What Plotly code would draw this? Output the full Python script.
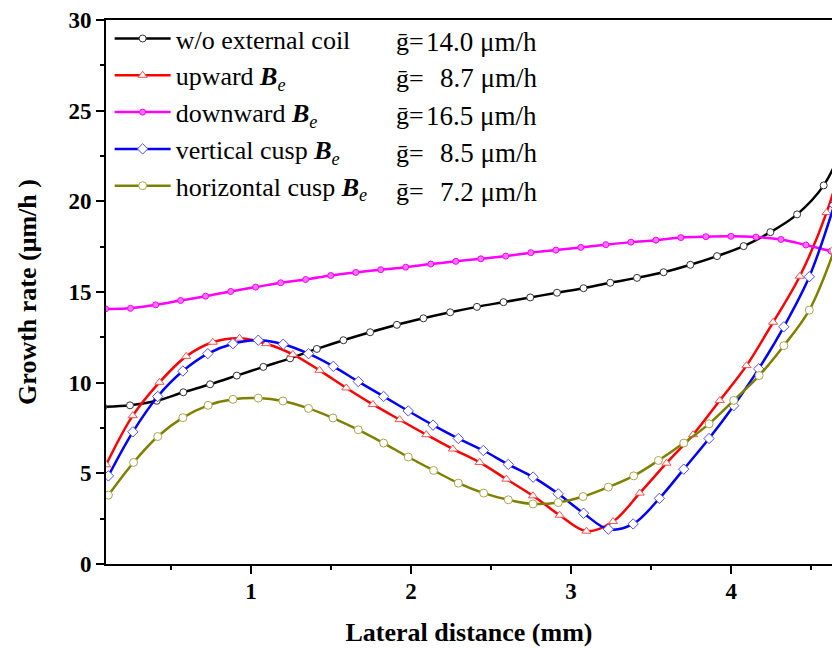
import plotly.graph_objects as go

# w/o external coil
x_none = [0.078, 0.245, 0.412, 0.578, 0.745, 0.912, 1.078, 1.245, 1.412, 1.578, 1.745, 1.912, 2.078, 2.245, 2.412,
          2.578, 2.745, 2.912, 3.078, 3.245, 3.412, 3.578, 3.745, 3.912, 4.078, 4.245, 4.412, 4.578, 4.745]
y_none = [8.66, 8.75, 9.0, 9.47, 9.91, 10.39, 10.87, 11.34, 11.86, 12.34, 12.78, 13.19, 13.55, 13.88, 14.18,
          14.44, 14.70, 14.96, 15.21, 15.51, 15.78, 16.09, 16.5, 16.98, 17.53, 18.30, 19.28, 20.88, 24.0]

# upward Be
x_up = [0.096, 0.262, 0.429, 0.596, 0.762, 0.929, 1.096, 1.262, 1.429, 1.596, 1.762, 1.929, 2.096, 2.262, 2.429,
        2.596, 2.762, 2.929, 3.096, 3.262, 3.429, 3.596, 3.762, 3.929, 4.096, 4.262, 4.429, 4.596, 4.762]
y_up = [5.47, 8.18, 10.02, 11.45, 12.23, 12.45, 12.15, 11.56, 10.68, 9.71, 8.80, 7.96, 7.13, 6.34, 5.60,
        4.68, 3.76, 2.69, 1.81, 2.34, 3.91, 5.56, 7.13, 9.02, 10.94, 13.33, 15.87, 19.38, 24.3]

# downward Be
x_down = [0.092, 0.248, 0.405, 0.561, 0.717, 0.874, 1.03, 1.186, 1.342, 1.499, 1.655, 1.811, 1.967, 2.124, 2.28,
          2.436, 2.592, 2.749, 2.905, 3.061, 3.217, 3.374, 3.53, 3.686, 3.842, 3.999, 4.155, 4.311, 4.467, 4.624]
y_down = [14.07, 14.1, 14.29, 14.53, 14.77, 15.03, 15.27, 15.51, 15.69, 15.91, 16.08, 16.23, 16.37, 16.54, 16.69,
          16.83, 16.98, 17.17, 17.31, 17.46, 17.61, 17.75, 17.86, 18.0, 18.05, 18.07, 18.03, 17.9, 17.59, 17.25]

# vertical cusp Be
x_vert = [0.11, 0.263, 0.418, 0.575, 0.731, 0.888, 1.046, 1.202, 1.36, 1.515, 1.671, 1.829, 1.983, 2.138, 2.296,
          2.452, 2.608, 2.763, 2.92, 3.078, 3.233, 3.388, 3.552, 3.704, 3.862, 4.016, 4.172, 4.329, 4.488, 4.644]
y_vert = [4.86, 7.29, 9.24, 10.64, 11.60, 12.15, 12.34, 12.12, 11.60, 10.90, 10.06, 9.24, 8.44, 7.66, 6.92,
          6.26, 5.49, 4.79, 3.87, 2.80, 1.92, 2.21, 3.62, 5.23, 6.92, 8.73, 10.76, 13.08, 15.84, 19.8]

# horizontal cusp Be
x_hori = [0.11, 0.267, 0.418, 0.575, 0.733, 0.888, 1.046, 1.2, 1.36, 1.513, 1.671, 1.829, 1.983, 2.141, 2.296,
          2.454, 2.608, 2.762, 2.92, 3.075, 3.233, 3.391, 3.546, 3.704, 3.862, 4.016, 4.175, 4.329, 4.488, 4.644]
y_hori = [3.80, 5.60, 7.03, 8.07, 8.75, 9.08, 9.15, 8.99, 8.58, 8.05, 7.40, 6.67, 5.90, 5.16, 4.46,
          3.91, 3.54, 3.31, 3.39, 3.72, 4.24, 4.86, 5.71, 6.67, 7.73, 9.02, 10.39, 12.04, 14.0, 17.3]

names = ["w/o external coil",
         "upward <b><i>B</i></b><sub><i>e</i></sub>",
         "downward <b><i>B</i></b><sub><i>e</i></sub>",
         "vertical cusp <b><i>B</i></b><sub><i>e</i></sub>",
         "horizontal cusp <b><i>B</i></b><sub><i>e</i></sub>"]
g_mean = ["14.0 μm/h", "8.7 μm/h", "16.5 μm/h", "8.5 μm/h", "7.2 μm/h"]

FONT = "Liberation Serif"

series = [
    (x_none, y_none, "#000000", dict(symbol="circle", size=7, color="white", line=dict(color="#333333", width=1))),
    (x_up, y_up, "#ff0000", dict(symbol="triangle-up", size=8, color="white", line=dict(color="#ff5050", width=1))),
    (x_down, y_down, "#ff00ff", dict(symbol="circle", size=6, color="#ff70ff", line=dict(color="#ff00ff", width=1))),
    (x_vert, y_vert, "#0000ff", dict(symbol="diamond", size=8, color="white", line=dict(color="#5050ff", width=1))),
    (x_hori, y_hori, "#808000", dict(symbol="circle", size=8, color="white", line=dict(color="#a8a850", width=1))),
]

fig = go.Figure()
for i, (xs, ys, col, mk) in enumerate(series):
    fig.add_trace(go.Scatter(
        x=xs, y=ys, mode="lines+markers", name=names[i],
        line=dict(color=col, width=2.5, shape="spline", smoothing=1.0),
        marker=mk, legendgroup=str(i),
    ))

# mean growth rate column next to legend
row_y = [0.960, 0.893, 0.824, 0.755, 0.684]
for i in range(5):
    fig.add_annotation(x=0.397, y=row_y[i], xref="paper", yref="paper", text="ḡ=",
                       showarrow=False, xanchor="left", yanchor="middle",
                       font=dict(family=FONT, size=26, color="black"))
    fig.add_annotation(x=0.596, y=row_y[i], xref="paper", yref="paper", text=g_mean[i],
                       showarrow=False, xanchor="right", yanchor="middle",
                       font=dict(family=FONT, size=27, color="black"))

fig.update_layout(
    width=832, height=650,
    margin=dict(l=106, r=0, t=20, b=86),
    plot_bgcolor="white", paper_bgcolor="white",
    font=dict(family=FONT, color="black"),
    legend=dict(x=0.005, y=1.009, xanchor="left", yanchor="top",
                bgcolor="rgba(0,0,0,0)", font=dict(family=FONT, size=26),
                tracegroupgap=0, itemwidth=56),
    showlegend=True,
)
fig.update_xaxes(
    range=[0.095, 4.63], tick0=0, dtick=1, automargin=False,
    ticks="outside", ticklen=8, tickwidth=2, tickcolor="black", ticklabelstandoff=-3,
    minor=dict(dtick=0.5, tick0=0, ticks="outside", ticklen=4, tickwidth=2, tickcolor="black"),
    showline=True, linewidth=2, linecolor="black", mirror=True,
    showgrid=False, zeroline=False,
    tickfont=dict(family=FONT, size=23, weight="bold"),
    title=dict(text="Lateral distance (mm)", font=dict(family=FONT, size=26, weight="bold"), standoff=20),
)
fig.update_yaxes(
    range=[0, 30], tick0=0, dtick=5, automargin=False,
    ticks="outside", ticklen=8, tickwidth=2, tickcolor="black",
    minor=dict(dtick=2.5, tick0=0, ticks="outside", ticklen=4, tickwidth=2, tickcolor="black"),
    showline=True, linewidth=2, linecolor="black",
    showgrid=False, zeroline=False,
    tickfont=dict(family=FONT, size=23, weight="bold"),
    title=dict(text="Growth rate (μm/h )", font=dict(family=FONT, size=26, weight="bold"), standoff=24),
)

# drop the default page margin so the figure fills the window exactly
fig.write_html("out.html", config={"displayModeBar": False},
               post_script="document.body.style.margin='0';document.body.style.overflow='hidden';")
